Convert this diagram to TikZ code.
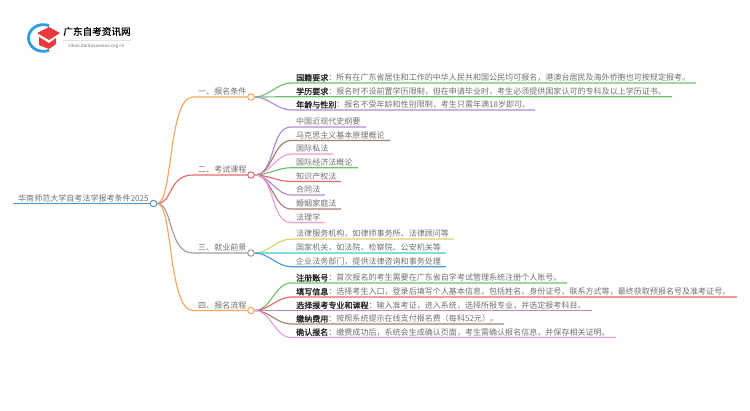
\documentclass[tikz,border=0pt]{standalone}
\usepackage{fontspec}
\setmainfont{Noto Sans CJK SC}
\usepackage{tikz}
\definecolor{grn}{HTML}{6CC070}
\definecolor{prp}{HTML}{B08AD8}
\definecolor{brn}{HTML}{A87E76}
\definecolor{pnk}{HTML}{F09AD8}
\definecolor{rd}{HTML}{E8686C}
\definecolor{org}{HTML}{F8A65C}
\definecolor{blu}{HTML}{4A9AD8}
\definecolor{gry}{HTML}{A0A0A0}
\definecolor{ylw}{HTML}{D4D468}
\definecolor{cyn}{HTML}{80DCE4}
\definecolor{txt}{HTML}{707070}
\definecolor{logored}{HTML}{E8393C}
\definecolor{logoblue}{HTML}{2E9BE0}
\tikzset{
  lbl/.style={anchor=south west,inner xsep=0pt,inner ysep=1.2pt,text=txt,font=\fontsize{8.04}{9}\selectfont},
  dot/.style={circle,draw=#1,fill=white,line width=1pt,minimum size=6.5pt,inner sep=0pt},
  link/.style={line width=1.15pt,#1}
}
\begin{document}
\begin{tikzpicture}[x=1pt,y=-1pt]
\useasboundingbox (0,0) rectangle (750,410);

% logo
\draw[line width=2.8pt,logoblue] (49,25.5) .. controls (37,22) and (28.5,30) .. (28.5,38) .. controls (28.5,46) and (37,54) .. (49,50.5);
\fill[logored] (49,27) -- (60,33) -- (49,40) -- (37,33) -- cycle;
\fill[logored] (39,37) -- (49,43) -- (56,38) -- (56,44) -- (49,49) -- (39,45) -- cycle;
\node (logotitle) at (97,31.5) {\fontsize{9.6}{10}\selectfont\addfontfeature{FakeBold=0.6}广东自考资讯网};
\draw[black!12,line width=0.5pt] (63,40.5) -- (131,40.5);
\node[text=txt] (logourl) at (96.5,46.5) {\fontsize{4.6}{5}\selectfont zikao.danluxuexiao.org.cn};

% root
\node[lbl] (root) at (18,203.5) {华南师范大学自考法学报考条件2025};
\node[dot=blu] (rootdot) at (153.5,203.5) {};
\coordinate (rootstart) at (13,203.5);
\draw[link=blu] (rootstart) -- (rootdot);

% main branches
\foreach \nm/\y/\col/\tx in {one/97/org/一、报名条件,two/175/rd/二、考试课程,three/253/gry/三、就业前景,four/310.5/org/四、报名流程}
{
  \node[lbl] (\nm) at (198,\y) {\tx};
  \coordinate (\nm bend) at (193,\y);
  \draw[link=\col] (rootdot) .. controls (173,203.5) and (168,\y) .. (\nm bend) -- (251,\y);
  \node[dot=\col] (\nm dot) at (251,\y) {};
}

% plain leaves
\foreach \nm/\p/\y/\col/\len/\tx in {
  c1/two/127/prp/70/中国近现代史纲要,
  c2/two/140.5/brn/94/马克思主义基本原理概论,
  c3/two/154/pnk/37/国际私法,
  c4/two/167.7/grn/62/国际经济法概论,
  c5/two/181.5/rd/45/知识产权法,
  c6/two/195/prp/29/合同法,
  c7/two/209/brn/45/婚姻家庭法,
  c8/two/222.5/pnk/29/法理学,
  j1/three/239/ylw/158/{法律服务机构，如律师事务所、法律顾问等},
  j2/three/253/cyn/150/{国家机关，如法院、检察院、公安机关等},
  j3/three/266.7/blu/150/{企业法务部门，提供法律咨询和事务处理}}
{
  \node[lbl] (\nm) at (296,\y) {\tx};
  \coordinate (\nm bend) at (291,\y);
  \coordinate (\nm end) at (296+\len,\y);
  \draw[link=\col] (\p dot) to[out=0,in=180,looseness=0.9] (\nm bend) -- (\nm end);
}

% leaves with a bold head
\foreach \nm/\p/\y/\col/\len/\hd/\tx in {
  r1/one/83/grn/400/国籍要求/{所有在广东省居住和工作的中华人民共和国公民均可报名，港澳台居民及海外侨胞也可按规定报考。},
  r2/one/96.7/grn/376/学历要求/{报名时不设前置学历限制，但在申请毕业时，考生必须提供国家认可的专科及以上学历证书。},
  r3/one/110/prp/239/年龄与性别/{报名不受年龄和性别限制，考生只需年满18岁即可。},
  s1/four/283/grn/271/注册账号/{首次报名的考生需要在广东省自学考试管理系统注册个人账号。},
  s2/four/297/rd/441/填写信息/{选择考生入口，登录后填写个人基本信息，包括姓名、身份证号、联系方式等，最终获取预报名号及准考证号。},
  s3/four/310.5/prp/296/选择报考专业和课程/{输入准考证，进入系统，选择所报专业，并选定报考科目。},
  s4/four/324/brn/208/缴纳费用/{按照系统提示在线支付报名费（每科52元）。},
  s5/four/337.5/pnk/320/确认报名/{缴费成功后，系统会生成确认页面，考生需确认报名信息，并保存相关证明。}}
{
  \node[lbl] (\nm) at (296,\y) {\textcolor{black!85}{\addfontfeature{FakeBold=1.5}\hd}：\tx};
  \coordinate (\nm bend) at (291,\y);
  \coordinate (\nm end) at (296+\len,\y);
  \draw[link=\col] (\p dot) to[out=0,in=180,looseness=0.9] (\nm bend) -- (\nm end);
}
\end{tikzpicture}
\end{document}
